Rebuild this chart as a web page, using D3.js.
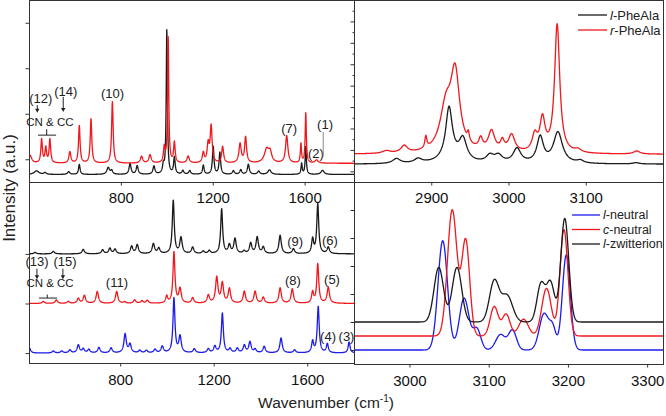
<!DOCTYPE html>
<html>
<head>
<meta charset="utf-8">
<script src="https://cdn.jsdelivr.net/npm/d3@7"></script>
<style>
body{margin:0;background:#fff;}
svg{display:block;font-family:"Liberation Sans",Arial,sans-serif;}
</style>
</head>
<body>
<svg id="chart" width="666" height="416"></svg>
<script>
// peaks: [wavenumber, height, half width]
// top left: measured low-frequency spectra
var tlBlackPeaks = [[433,0.08,12],[470,0.04,6],[573,0.06,6],[619,0.22,4],[745,0.15,7],[760,0.08,5],
    [840,0.24,5],[871,0.19,5],[944,0.18,5],[985,0.18,4],[1000,3.16,3],[1033,0.37,4],[1070,0.08,5],
    [1100,0.08,5],[1159,0.2,4],[1202,0.61,4],[1231,0.48,4],[1290,0.08,5],[1322,0.1,5],[1355,0.22,5],
    [1400,0.07,6],[1447,0.1,8],[1587,0.24,3],[1605,0.61,3],[1678,0.09,8]];
var tlRedPeaks = [[405,0.17,8],[455,0.52,4],[473,0.33,4],[491,0.52,4],[578,0.25,5],[619,0.82,4],
    [670,0.97,4],[763,1.35,4],[890,0.15,6],[927,0.18,6],[989,0.33,4],[1006,2.75,3],[1033,0.45,4],
    [1093,0.15,6],[1159,0.22,5],[1180,0.4,5],[1193,0.8,5],[1243,0.36,5],[1319,0.42,6],[1343,0.56,5],
    [1435,0.3,12],[1450,0.2,8],[1522,0.6,6],[1584,0.42,3],[1605,1.1,3],[1652,0.07,8]];
var tlOffsets = [0.165, 0.41];

// top right: measured CH stretch region
var trBlackPeaks = [[2855,0.23,6],[2883,0.2,6],[2925,0.3,15],[2923,2.3,5],[2941,1.0,6],[2976,0.33,6],
    [2987,0.33,6],[3011,0.67,6],[3041,1.2,5],[3064,1.45,7],[3093,0.12,5],[3165,0.06,5]];
var trRedPeaks = [[2842,0.12,6],[2865,0.33,5],[2893,0.55,1.5],[2919,2.0,9],[2931,3.5,7],[2948,0.4,1.5],
    [2964,0.5,3],[2978,0.95,5],[2992,0.45,3],[3004,0.8,5],[3034,0.75,4],[3044,1.5,4],[3063,6.0,4],
    [3090,0.14,5],[3166,0.14,5]];
var trOffsets = [0.83, 1.29];

// bottom left: calculated spectra
var blBlackPeaks = [[436,0.03,6],[514,0.05,6],[642,0.09,6],[725,0.08,6],[756,0.11,6],[778,0.09,6],
    [849,0.15,6],[873,0.18,6],[942,0.2,6],[965,0.11,6],[1027,1.07,5],[1060,0.32,6],[1110,0.13,6],
    [1155,0.05,6],[1181,0.06,6],[1234,0.9,5],[1267,0.17,6],[1291,0.3,6],[1330,0.05,6],[1358,0.21,6],
    [1386,0.33,6],[1412,0.13,6],[1484,0.37,6],[1541,0.1,6],[1623,0.29,5],[1645,1.0,5],[1690,0.13,6]];
var blRedPeaks = [[471,0.04,6],[527,0.07,6],[578,0.04,6],[621,0.1,6],[647,0.16,6],[702,0.24,6],
    [785,0.24,6],[819,0.03,6],[862,0.07,6],[893,0.05,6],[916,0.06,6],[999,0.14,5],[1030,1.03,5],
    [1056,0.29,6],[1110,0.11,6],[1177,0.16,6],[1213,0.52,6],[1237,0.4,6],[1267,0.29,6],[1331,0.24,6],
    [1377,0.24,6],[1412,0.12,6],[1484,0.31,6],[1536,0.29,6],[1623,0.22,5],[1645,0.79,5],[1690,0.32,6]];
var blBluePeaks = [[412,0.1,6],[514,0.04,6],[550,0.04,6],[585,0.06,6],[621,0.16,6],[642,0.08,6],
    [666,0.07,6],[709,0.11,6],[761,0.1,6],[821,0.38,6],[842,0.17,6],[884,0.05,6],[912,0.05,6],
    [949,0.07,6],[980,0.13,6],[1030,1.1,5],[1056,0.33,6],[1117,0.08,6],[1177,0.08,6],[1205,0.13,6],
    [1237,0.8,5],[1270,0.08,6],[1301,0.09,6],[1331,0.15,6],[1355,0.22,6],[1377,0.07,6],[1416,0.13,6],
    [1488,0.3,6],[1546,0.06,6],[1623,0.23,5],[1647,0.93,5],[1686,0.18,5],[1779,0.22,5]];
var blOffsets = [2.2, 1.2, 0.2];

// bottom right: calculated CH stretch region (gaussian sigma)
var brBluePeaks = [[3042,3.9,6],[3069,1.85,6],[3085,0.75,5],[3115,0.55,6],[3130,0.7,5],[3170,1.3,6],
    [3181,0.7,4],[3198,3.4,5]];
var brRedPeaks = [[3054,4.5,6],[3071,3.4,5],[3107,1.05,5],[3122,0.78,5],[3144,0.6,6],[3173,1.7,6],
    [3195,3.8,5]];
var brBlackPeaks = [[3037,1.95,6],[3060,1.95,6],[3107,1.45,6],[3123,0.95,7],[3166,1.35,5],[3178,1.4,5],
    [3196,3.7,5]];
var brOffsets = [0.5, 1.0, 1.5];

var tlTicks = [800, 1200, 1600];
var trTicks = [2900, 3000, 3100];
var blTicks = [800, 1200, 1600];
var brTicks = [3000, 3100, 3200, 3300];

var trLegend = [["l", "-PheAla", "#1a1a1a"], ["r", "-PheAla", "#f0181c"]];
var brLegend = [["l", "-neutral", "#1b1bec"], ["c", "-neutral", "#f0181c"], ["l", "-zwitterion", "#1a1a1a"]];

// annotations: [text, wavenumber, intensity]
var tlNotes = [["(12)",451,1.84],["(14)",560,2.0],["(10)",764,1.95],["(7)",1533,1.18],["(2)",1649,0.63],["(1)",1689,1.27]];
var blNotes = [["(13)",444,2.04],["(15)",564,2.04],["(11)",786,1.63],["(9)",1548,2.45],["(6)",1697,2.48],
    ["(8)",1539,1.67],["(5)",1706,1.69],["(4)",1689,0.54],["(3)",1768,0.54]];

var BLACK = "#1a1a1a", RED = "#f0181c", BLUE = "#1b1bec", AXIS = "#333";
var svg = d3.select("#chart");

function lorentz(peaks, w){
    var s = 0;
    peaks.forEach(function(p){ var d = w - p[0]; s += p[1]*p[2]*p[2]/(d*d + p[2]*p[2]); });
    return s;
}
function gauss(peaks, w){
    var s = 0;
    peaks.forEach(function(p){ var d = (w - p[0])/p[2]; s += p[1]*Math.exp(-0.5*d*d); });
    return s;
}

function draw_panel(o){
    var x = d3.scaleLinear().domain(o.xdom).range([o.left, o.right]);
    var y = d3.scaleLinear().domain(o.ydom).range([o.bottom, o.top]);
    var g = svg.append("g").attr("class", "panel-" + o.name);

    svg.append("clipPath").attr("id", "clip-" + o.name)
        .append("rect")
        .attr("x", o.left).attr("y", o.top)
        .attr("width", o.right - o.left).attr("height", o.bottom - o.top);

    var line = d3.line().x(function(d){ return x(d[0]); }).y(function(d){ return y(d[1]); });
    var grid = d3.range(o.xdom[0], o.xdom[1] + 0.5, 0.5);
    o.traces.forEach(function(t){
        var pts = grid.map(function(w){ return [w, t.offset + o.shape(t.peaks, w)]; });
        g.append("path")
            .attr("clip-path", "url(#clip-" + o.name + ")")
            .attr("d", line(pts))
            .attr("fill", "none")
            .attr("stroke", t.color)
            .attr("stroke-width", 1.3)
            .attr("stroke-linejoin", "round");
    });

    // frame
    g.append("rect")
        .attr("x", o.left + 0.5).attr("y", o.top + 0.5)
        .attr("width", o.right - o.left).attr("height", o.bottom - o.top)
        .attr("fill", "none").attr("stroke", AXIS).attr("stroke-width", 1);

    // x axis
    var xa = g.append("g")
        .attr("transform", "translate(0," + (o.bottom + 0.5) + ")")
        .call(d3.axisBottom(x).tickValues(o.xticks).tickSize(3).tickPadding(o.pad).tickFormat(d3.format("d")));
    xa.select(".domain").remove();
    xa.selectAll("line").attr("stroke", AXIS);
    xa.selectAll("text").attr("font-size", 15).attr("fill", "#111").attr("font-family", "Liberation Sans, Arial, sans-serif");

    // y ticks, no labels
    var ya = g.append("g")
        .attr("transform", "translate(" + (o.left + 0.5) + ",0)")
        .call(d3.axisLeft(y).tickValues(o.yticks).tickSize(4).tickFormat(""));
    ya.select(".domain").remove();
    ya.selectAll("line").attr("stroke", AXIS);
    if(o.yminor){
        var ym = g.append("g")
            .attr("transform", "translate(" + (o.left + 0.5) + ",0)")
            .call(d3.axisLeft(y).tickValues(o.yminor).tickSize(2).tickFormat(""));
        ym.select(".domain").remove();
        ym.selectAll("line").attr("stroke", AXIS);
    }
    return {x: x, y: y, g: g};
}

function notes(p, list){
    p.g.selectAll(".note").data(list).enter().append("text")
        .attr("class", "note")
        .attr("x", function(d){ return p.x(d[1]); })
        .attr("y", function(d){ return p.y(d[2]); })
        .attr("dy", "0.35em")
        .attr("text-anchor", "middle")
        .attr("font-size", 13)
        .attr("fill", "#222")
        .text(function(d){ return d[0]; });
}

function arrow(p, w, v0, v1){
    var xx = p.x(w), y0 = p.y(v0), y1 = p.y(v1);
    p.g.append("line").attr("x1", xx).attr("x2", xx).attr("y1", y0).attr("y2", y1 - 3)
        .attr("stroke", "#222").attr("stroke-width", 1);
    p.g.append("path").attr("d", "M" + (xx - 2.2) + "," + (y1 - 4) + "L" + (xx + 2.2) + "," + (y1 - 4) + "L" + xx + "," + y1 + "Z")
        .attr("fill", "#222");
}

function cncc(p, wText, vText, a, b, c, vLine, vTop){
    p.g.append("text").attr("x", p.x(wText)).attr("y", p.y(vText)).attr("dy", "0.35em")
        .attr("text-anchor", "middle").attr("font-size", 11.5).attr("fill", "#222").text("CN & CC");
    p.g.append("line").attr("x1", p.x(a)).attr("x2", p.x(b)).attr("y1", p.y(vLine)).attr("y2", p.y(vLine))
        .attr("stroke", "#222").attr("stroke-width", 1);
    p.g.append("line").attr("x1", p.x(c)).attr("x2", p.x(c)).attr("y1", p.y(vLine)).attr("y2", p.y(vTop))
        .attr("stroke", "#222").attr("stroke-width", 1);
}

function legend(list, lx0, lx1, ly, step, fs){
    var lg = svg.append("g");
    list.forEach(function(d, i){
        var yy = ly + i*step;
        lg.append("line").attr("x1", lx0).attr("x2", lx1).attr("y1", yy).attr("y2", yy)
            .attr("stroke", d[2]).attr("stroke-width", 1.3);
        var t = lg.append("text").attr("x", lx1 + 3).attr("y", yy).attr("dy", "0.35em")
            .attr("font-size", fs).attr("fill", "#222");
        t.append("tspan").attr("font-style", "italic").text(d[0]);
        t.append("tspan").text(d[1]);
    });
}

// bottom panels first so the top tick labels sit on top
var bl = draw_panel({name: "bl", left: 29, right: 354, top: 182, bottom: 363,
    xdom: [410, 1800], ydom: [0, 3.65], xticks: blTicks, pad: 8,
    yticks: blOffsets, shape: lorentz,
    traces: [{peaks: blBlackPeaks, offset: blOffsets[0], color: BLACK},
             {peaks: blRedPeaks, offset: blOffsets[1], color: RED},
             {peaks: blBluePeaks, offset: blOffsets[2], color: BLUE}]});
var br = draw_panel({name: "br", left: 354, right: 663, top: 182, bottom: 364,
    xdom: [2930, 3320], ydom: [0, 6.5], xticks: brTicks, pad: 8,
    yticks: [0.5, 1.5, 2.5, 3.5, 4.5, 5.5], shape: gauss,
    traces: [{peaks: brBluePeaks, offset: brOffsets[0], color: BLUE},
             {peaks: brRedPeaks, offset: brOffsets[1], color: RED},
             {peaks: brBlackPeaks, offset: brOffsets[2], color: BLACK}]});
var tl = draw_panel({name: "tl", left: 29, right: 354, top: 0, bottom: 182,
    xdom: [400, 1815], ydom: [0, 4], xticks: tlTicks, pad: 7,
    yticks: [0.5, 1.5, 2.5, 3.5], shape: lorentz,
    traces: [{peaks: tlBlackPeaks, offset: tlOffsets[0], color: BLACK},
             {peaks: tlRedPeaks, offset: tlOffsets[1], color: RED}]});
var tr = draw_panel({name: "tr", left: 354, right: 663, top: 0, bottom: 182,
    xdom: [2800, 3200], ydom: [0, 8.5], xticks: trTicks, pad: 7,
    yticks: [0.5, 1.5, 2.5, 3.5, 4.5, 5.5, 6.5, 7.5], yminor: [1, 2, 3, 4, 5, 6, 7, 8], shape: lorentz,
    traces: [{peaks: trBlackPeaks, offset: trOffsets[0], color: BLACK},
             {peaks: trRedPeaks, offset: trOffsets[1], color: RED}]});

// annotations
notes(tl, tlNotes);
arrow(tl, 436, 1.69, 1.52);
arrow(tl, 549, 1.87, 1.54);
cncc(tl, 491, 1.33, 439, 518, 477, 1.03, 1.16);
tl.g.append("line").attr("x1", tl.x(1681)).attr("x2", tl.x(1681)).attr("y1", tl.y(1.1)).attr("y2", tl.y(0.56))
    .attr("stroke", "#888").attr("stroke-width", 1);

notes(bl, blNotes);
arrow(bl, 444, 1.9, 1.69);
arrow(bl, 555, 1.9, 1.69);
cncc(bl, 500, 1.61, 453, 530, 488, 1.31, 1.38);

legend(trLegend, 578, 607, 15, 15, 13);
legend(brLegend, 572, 600, 215, 14.5, 12.5);

// axis titles
svg.append("text")
    .attr("transform", "translate(15,188) rotate(-90)")
    .attr("text-anchor", "middle")
    .attr("font-size", 17)
    .attr("fill", "#222")
    .text("Intensity (a.u.)");

var xt = svg.append("text")
    .attr("x", 326).attr("y", 408)
    .attr("text-anchor", "middle")
    .attr("font-size", 15.5)
    .attr("fill", "#222");
xt.append("tspan").text("Wavenumber (cm");
xt.append("tspan").attr("font-size", 10).attr("dy", -6).text("-1");
xt.append("tspan").attr("dy", 6).text(")");
</script>
</body>
</html>
